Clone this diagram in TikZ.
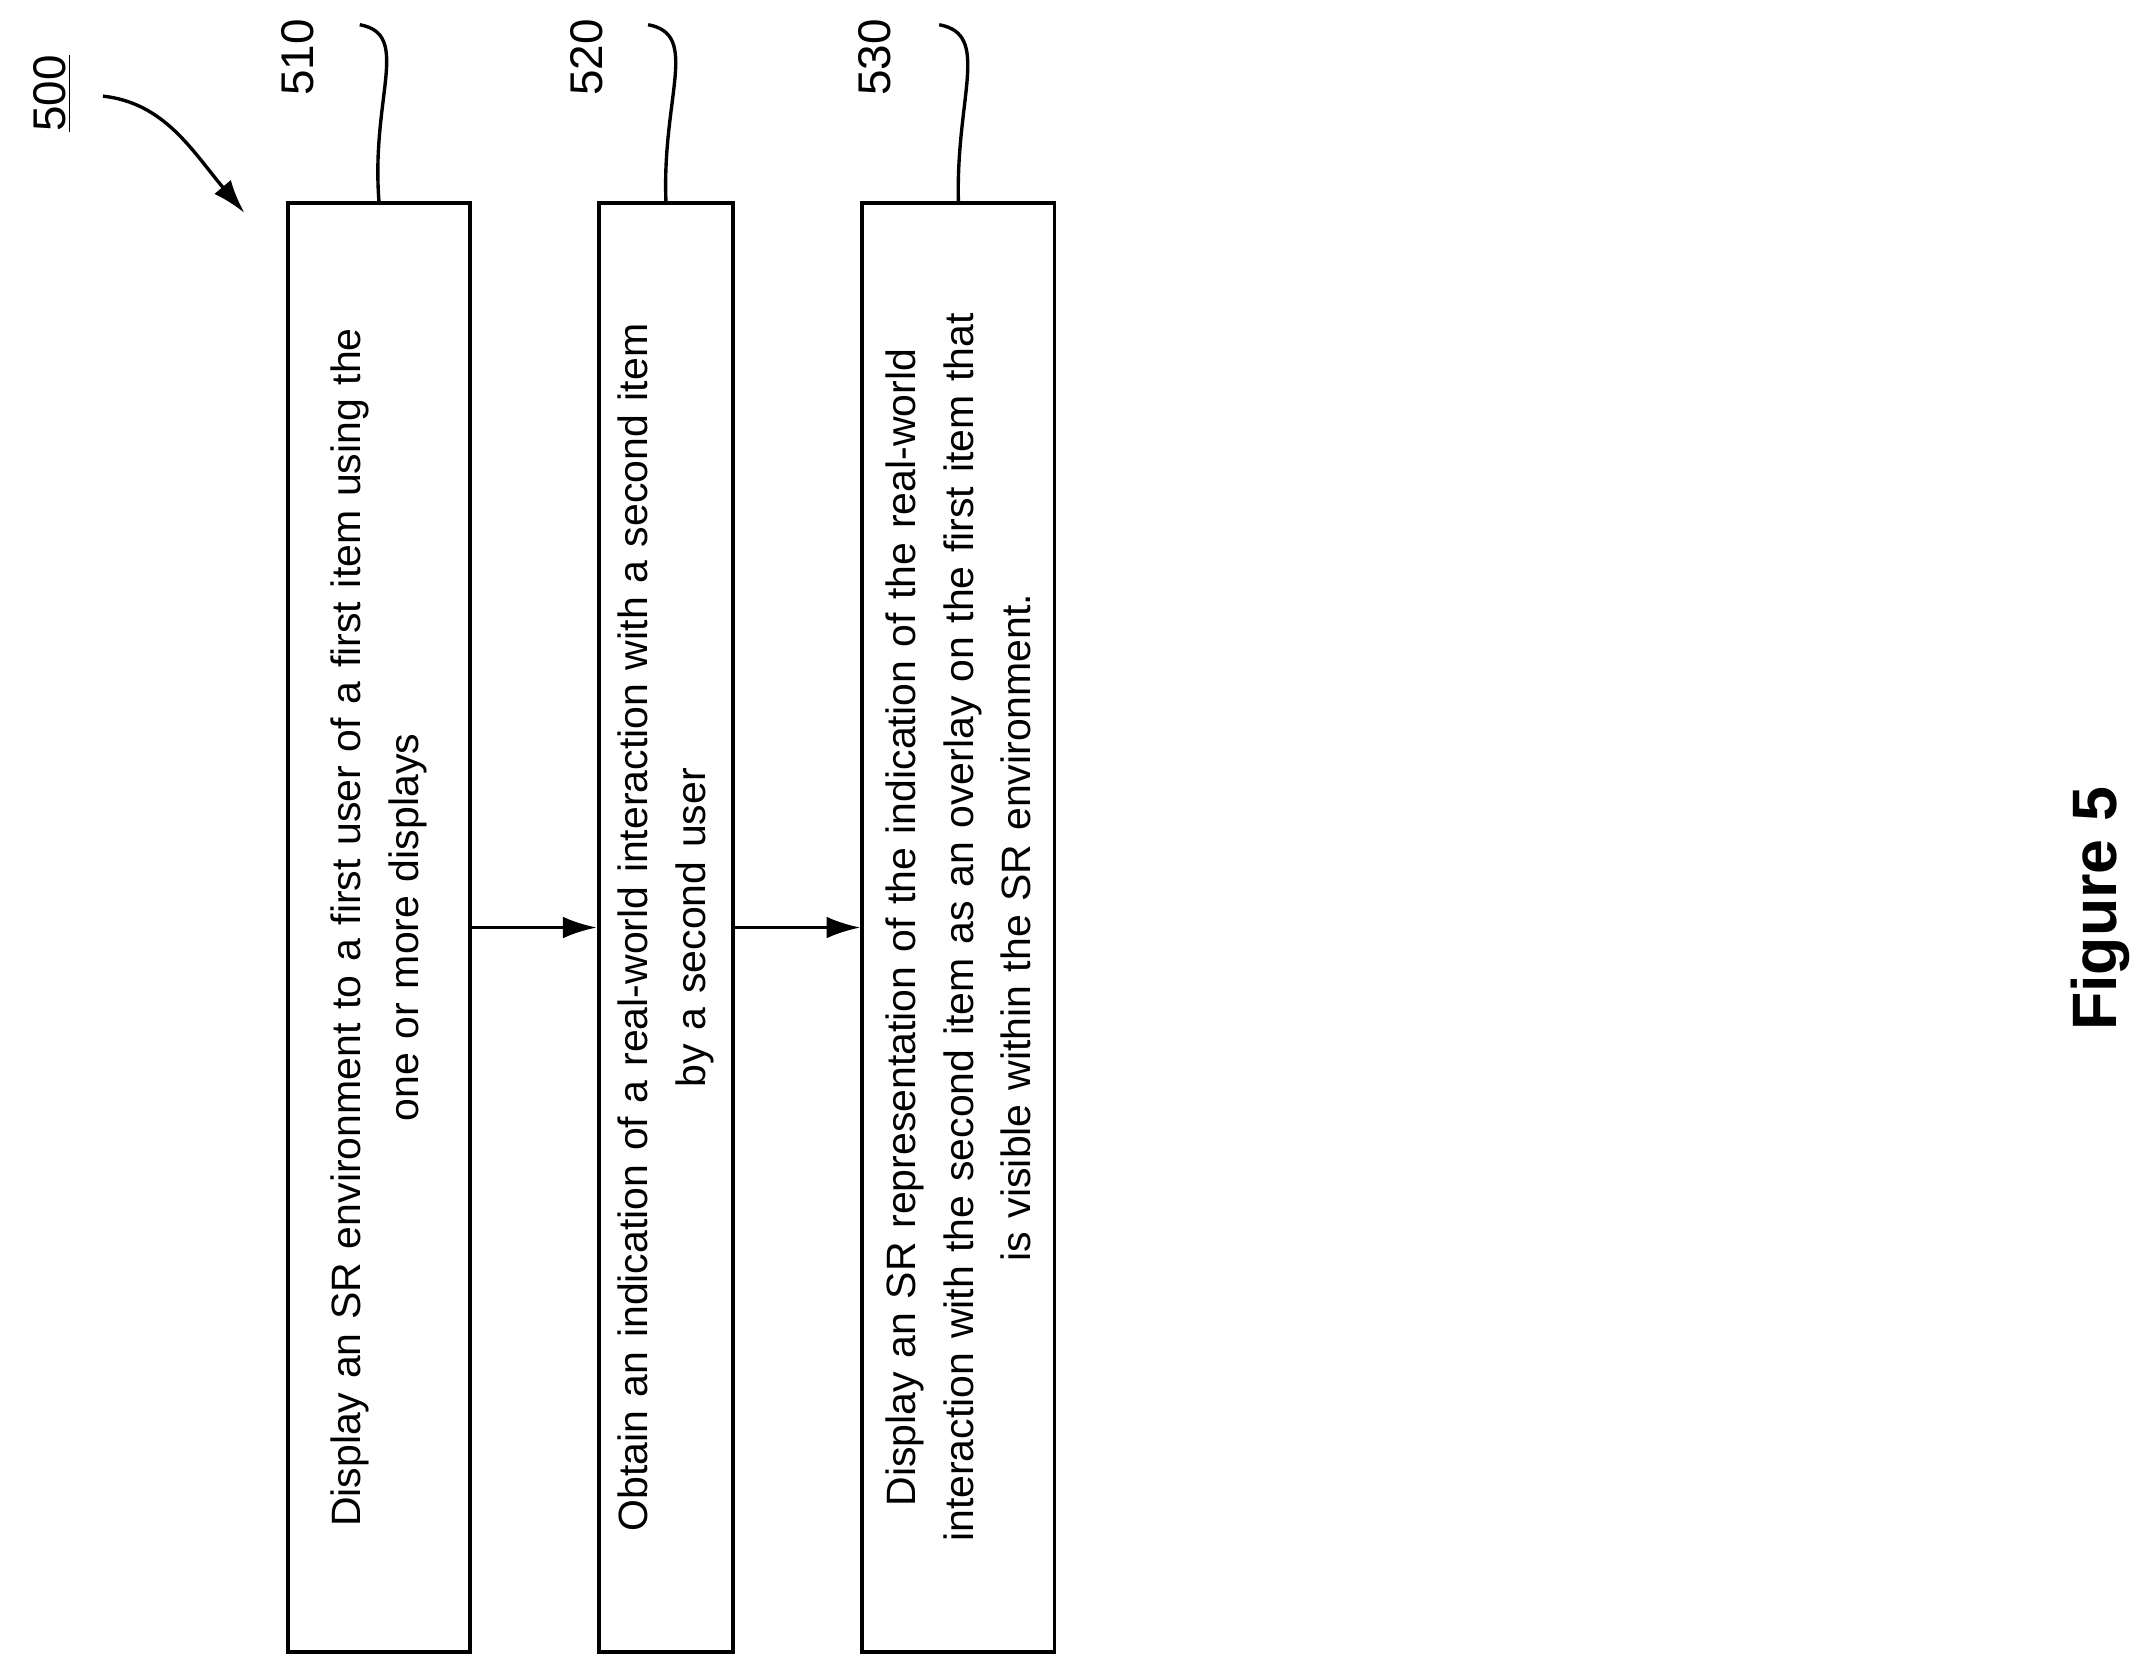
\documentclass[tikz,border=0pt]{standalone}
\usepackage{fontspec}
\setmainfont{Liberation Sans}
\usetikzlibrary{arrows.meta}
\begin{document}
\begin{tikzpicture}[x=0.02cm, y=-0.02cm,
    stepbox/.style={draw, line width=1.6pt, rotate=90, minimum width=21.1cm,
      text width=20.8cm, align=center, inner sep=0pt,
      font=\fontsize{17}{24}\selectfont},
    ref/.style={rotate=90, font=\fontsize{19}{22}\selectfont},
    lead/.style={line width=1.4pt}]
  \useasboundingbox (0,0) rectangle (1560,1214);

  % Steps
  \node[stepbox, minimum height=2.64cm] (b510) at (276,675.5)
    {Display an SR environment to a first user of a first item using the\\one or more displays};
  \node[stepbox, minimum height=1.96cm] (b520) at (485,675.5)
    {Obtain an indication of a real-world interaction with a second item\\by a second user};
  \node[stepbox, minimum height=2.8cm] (b530) at (698,675.5)
    {Display an SR representation of the indication of the real-world\\interaction with the second item as an overlay on the first item that\\is visible within the SR environment.};

  % Arrows
  \draw[line width=1.4pt, -{Latex[length=14pt,width=9pt]}] (b510.south) -- (b520.north);
  \draw[line width=1.4pt, -{Latex[length=14pt,width=9pt]}] (b520.south) -- (b530.north);

  % Reference numerals
  \node[ref] (l510) at (217,42) {510};
  \node[ref] (l520) at (427,42) {520};
  \node[ref] (l530) at (637,42) {530};
  \coordinate (t510) at (262,18);
  \coordinate (t520) at (472,18);
  \coordinate (t530) at (684,18);
  \draw[lead] (t510) .. controls (300,25) and (270,70) .. (b510.east);
  \draw[lead] (t520) .. controls (510,25) and (482,70) .. (b520.east);
  \draw[lead] (t530) .. controls (722,25) and (696,70) .. (b530.east);

  \node[ref] (l500) at (38,68) {\underline{500}};
  \coordinate (s500) at (75,70);
  \draw[line width=1.4pt, -{Latex[length=14pt,width=9pt]}] (s500) .. controls (120,75) and (140,110) .. (178,155);

  \node[rotate=90, font=\bfseries\fontsize{26}{30}\selectfont] (fig) at (1530,662) {Figure 5};
\end{tikzpicture}
\end{document}
